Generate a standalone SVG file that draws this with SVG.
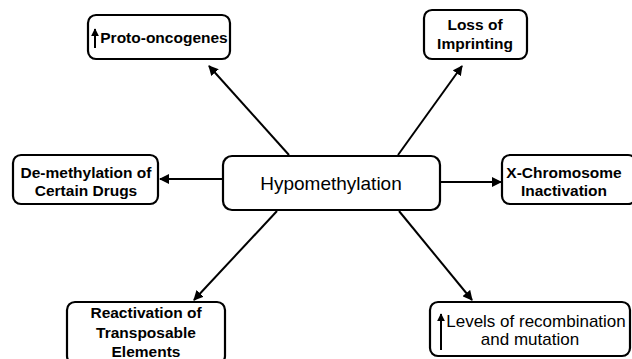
<svg xmlns="http://www.w3.org/2000/svg" width="632" height="359" viewBox="0 0 632 359">
<style>
.box{fill:#fff;stroke:#000;stroke-width:2.2}
.t{font-family:"Comic Sans MS","Liberation Sans",sans-serif;font-size:15.5px;font-weight:bold;fill:#000;text-anchor:middle}
.r{font-weight:normal;font-size:17px}
.c{font-family:"Comic Sans MS","Liberation Sans",sans-serif;font-size:19px;fill:#000;text-anchor:middle}
.e{stroke:#000;stroke-width:2;fill:none}
</style>
<defs>
<marker id="ah" viewBox="0 0 10 10" refX="9" refY="5" markerWidth="5" markerHeight="5" orient="auto" markerUnits="strokeWidth">
<path d="M0,0 L10,5 L0,10 z" fill="#000"/>
</marker>
<marker id="sh" viewBox="0 0 10 10" refX="9" refY="5" markerWidth="4" markerHeight="4" orient="auto" markerUnits="strokeWidth">
<path d="M0,0 L10,5 L0,10 z" fill="#000"/>
</marker>
</defs>
<rect width="632" height="359" fill="#fff"/>
<g id="connectors">
<line class="e" x1="289" y1="155" x2="209" y2="66" marker-end="url(#ah)"/>
<line class="e" x1="398" y1="155" x2="462" y2="66" marker-end="url(#ah)"/>
<line class="e" x1="223" y1="179" x2="160" y2="179" marker-end="url(#ah)"/>
<line class="e" x1="440" y1="182" x2="501" y2="182" marker-end="url(#ah)"/>
<line class="e" x1="277" y1="211" x2="194" y2="300" marker-end="url(#ah)"/>
<line class="e" x1="399" y1="211" x2="472" y2="300" marker-end="url(#ah)"/>
</g>
<g id="hypomethylation">
<rect class="box" x="223" y="156" width="217" height="54" rx="9"/>
<text class="c" x="331" y="190">Hypomethylation</text>
</g>
<g id="proto">
<rect class="box" x="88" y="15" width="142" height="44" rx="8"/>
<line class="e" x1="95" y1="48" x2="95" y2="29" stroke-width="2" marker-end="url(#sh)"/>
<text class="t" x="164" y="43">Proto-oncogenes</text>
</g>
<g id="loss">
<rect class="box" x="424" y="10" width="103" height="49" rx="8"/>
<text class="t" x="475" y="30">Loss of</text>
<text class="t" x="475" y="49">Imprinting</text>
</g>
<g id="demethylation">
<rect class="box" x="13" y="155" width="145" height="49" rx="8"/>
<text class="t" x="86" y="178">De-methylation of</text>
<text class="t" x="86" y="196">Certain Drugs</text>
</g>
<g id="xchrom">
<rect class="box" x="502" y="155" width="134" height="49" rx="8"/>
<text class="t" x="564" y="178">X-Chromosome</text>
<text class="t" x="564" y="196">Inactivation</text>
</g>
<g id="reactivation">
<rect class="box" x="67" y="302" width="158" height="62" rx="8"/>
<text class="t" x="146" y="318">Reactivation of</text>
<text class="t" x="146" y="338">Transposable</text>
<text class="t" x="146" y="357">Elements</text>
</g>
<g id="levels">
<rect class="box" x="430" y="302" width="200" height="54" rx="8"/>
<line class="e" x1="441" y1="350" x2="441" y2="314" marker-end="url(#sh)"/>
<text class="t r" x="536" y="327">Levels of recombination</text>
<text class="t r" x="530" y="345">and mutation</text>
</g>
</svg>
